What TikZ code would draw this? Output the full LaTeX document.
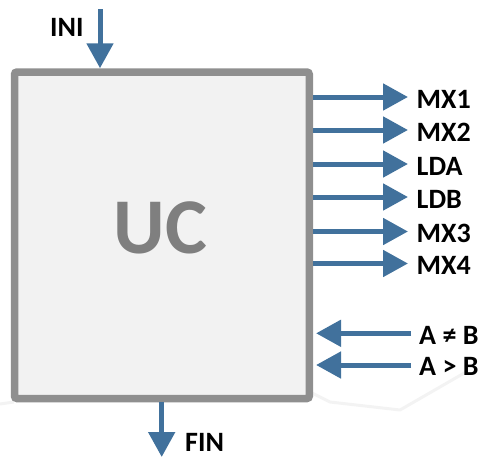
\documentclass[tikz,border=0pt]{standalone}
\usepackage{fontspec}
\setmainfont{Carlito}
\usetikzlibrary{arrows.meta}
\definecolor{arrblue}{HTML}{41719C}
\definecolor{boxgray}{HTML}{8F8F8F}
\definecolor{boxfill}{HTML}{F2F2F2}
\definecolor{ucgray}{HTML}{7F7F7F}
\definecolor{faint}{HTML}{F3F3F3}
\tikzset{
  arr/.style={draw=arrblue, line width=5pt, -{Triangle[width=26pt,length=25pt]}, arrblue},
  lbl/.style={inner sep=0pt, anchor=base west, font=\fontsize{28}{30}\selectfont\bfseries},
  ucbox/.style={draw=boxgray, fill=boxfill, line width=7.5pt, rounded corners=2.5pt,
    minimum width=294.8pt, minimum height=326.5pt, inner sep=0pt},
  shadowline/.style={draw=faint, line width=3pt, line join=round}
}
\begin{document}
\begin{tikzpicture}[x=1pt,y=-1pt]
\useasboundingbox (0,0) rectangle (481,458);
% faint reflection
\draw[shadowline] (0,404) -- (14,402);
\draw[shadowline] (306,390) -- (330,402) -- (400,410) -- (466,372);
% box
\node[ucbox] (uc) at (161.9,235.25) {};
\node[inner sep=0pt, text=ucgray, font=\fontsize{79}{80}\selectfont\bfseries] (uct) at (160.5,228) {UC};
% INI
\node[lbl] (ini) at (50,36.7) {INI};
\coordinate (inistart) at (100,9);
\draw[arr] (inistart) -- (inistart |- uc.north);
% FIN
\node[lbl] (fin) at (185,451.7) {FIN};
\coordinate (finend) at (161.7,457);
\draw[arr] (uc.south -| finend) -- (finend);
% outputs
\node[lbl] (mx1) at (416.5,108) {MX1};
\node[lbl] (mx2) at (416.5,141) {MX2};
\node[lbl] (lda) at (416.5,175) {LDA};
\node[lbl] (ldb) at (416.5,208) {LDB};
\node[lbl] (mx3) at (416.5,242.5) {MX3};
\node[lbl] (mx4) at (416.5,274.5) {MX4};
\coordinate (tmx1) at (408,97);
\coordinate (tmx2) at (408,130);
\coordinate (tlda) at (408,164);
\coordinate (tldb) at (408,197);
\coordinate (tmx3) at (408,231.5);
\coordinate (tmx4) at (408,263.5);
\foreach \t in {tmx1,tmx2,tlda,tldb,tmx3,tmx4}{
  \draw[arr] (uc.east |- \t) -- (\t);
}
% inputs
\node[lbl] (aneb) at (419,344.3) {A ≠ B};
\node[lbl] (agtb) at (419,375) {A > B};
\coordinate (saneb) at (411,333.3);
\coordinate (sagtb) at (411,365);
\draw[arr] (saneb) -- ([xshift=3pt]uc.east |- saneb);
\draw[arr] (sagtb) -- ([xshift=3pt]uc.east |- sagtb);
\end{tikzpicture}
\end{document}
